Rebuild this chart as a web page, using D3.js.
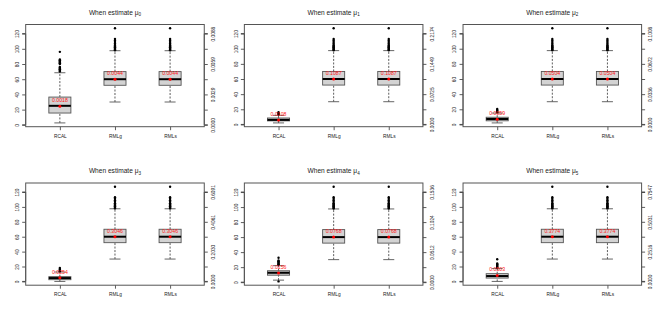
<!DOCTYPE html>
<html>
<head>
<meta charset="utf-8">
<script src="https://cdn.jsdelivr.net/npm/d3@7"></script>
<style>
  html, body { margin: 0; padding: 0; background: #fff; }
  svg { display: block; font-family: "Liberation Sans", Arial, sans-serif; }
</style>
</head>
<body>
<div id="chart"></div>
<script>
const W = 656;
const H = 317;

const methods = ['RCAL', 'RMLg', 'RMLs'];
const paramIdx = ['0', '1', '2', '3', '4', '5'];

// [lower whisker, Q1, median, Q3, upper whisker] on the left axis scale
const rcalStats = [
  [2.5, 15.5, 25, 36.5, 68.5],
  [2, 4.7, 6, 8.5, 12],
  [2, 4.8, 7.2, 9.5, 15],
  [0, 2.3, 4.5, 6.4, 12.6],
  [2.7, 9.3, 12.5, 15.2, 22],
  [0, 4.5, 7.2, 10.4, 17.2]
];
const rcalOutliers = [
  [70, 71, 72, 73, 74, 75, 76, 80, 81, 82, 83, 84, 85, 86, 96],
  [13, 13.7, 14.4, 15.2, 16.2],
  [16, 17, 18, 19, 20.5],
  [13.5, 14.5, 15.5, 16.5, 18],
  [1, 23, 24, 25, 26, 27, 28, 29, 32.5],
  [18, 19, 20, 21, 22, 23, 24, 29.8]
];
const rcalMeans = [24.5, 6, 7, 5, 12.2, 8];

const rmlStats = [30, 52, 60, 70, 97.5];
const rmlOutliers = [98, 99, 100, 101, 102, 103, 104, 105, 107, 109, 111, 113, 127];
const rmlMean = 60;

const meanLabels = [
  ['0.0018', '0.0044', '0.0044'],
  ['0.0108', '0.1087', '0.1087'],
  ['0.0059', '0.0504', '0.0504'],
  ['0.0254', '0.3046', '0.3046'],
  ['0.0156', '0.0768', '0.0768'],
  ['0.0503', '0.3774', '0.3774']
];

const leftTicks = [0, 20, 40, 60, 80, 100, 120];
const rightLabels = [
  ['0.0000', '0.0029', '0.0059', '0.0088'],
  ['0.0000', '0.0725', '0.1449', '0.2174'],
  ['0.0000', '0.0336', '0.0672', '0.1008'],
  ['0.0000', '0.2030', '0.4061', '0.6091'],
  ['0.0000', '0.0512', '0.1024', '0.1536'],
  ['0.0000', '0.2516', '0.5031', '0.7547']
];

const pw = W / 3;
const ph = H / 2;
const margin = {top: 24.5, right: 14.4, bottom: 31.8, left: 25.7};
const iw = pw - margin.left - margin.right;
const ih = ph - margin.top - margin.bottom;

const svg = d3.select('#chart')
  .append('svg')
  .attr('width', W)
  .attr('height', H);

function drawPanel(p) {
  const col = p % 3;
  const row = Math.floor(p / 3);
  const g = svg.append('g')
    .attr('transform', `translate(${col * pw + margin.left}, ${row * ph + margin.top})`);

  const groups = [
    {stats: rcalStats[p], out: rcalOutliers[p], mean: rcalMeans[p]},
    {stats: rmlStats, out: rmlOutliers, mean: rmlMean},
    {stats: rmlStats, out: rmlOutliers, mean: rmlMean}
  ];

  const allVals = groups.flatMap(d => d.stats.concat(d.out));
  const lo = d3.min(allVals);
  const hi = d3.max(allVals);
  const pad = (hi - lo) * 0.04;

  const y = d3.scaleLinear().domain([lo - pad, hi + pad]).range([ih, 0]);
  const x = d3.scaleLinear().domain([0.38, 3.62]).range([0, iw]);
  const bw = x(1.4) - x(1);

  // axes
  const la = g.append('g')
    .call(d3.axisLeft(y).tickValues(leftTicks).tickSize(3.5).tickFormat(d3.format('d')));
  la.select('.domain').attr('stroke', '#333').attr('stroke-width', 0.8)
    .attr('d', `M-3.5,${y(0)}H0V${y(120)}H-3.5`);
  la.selectAll('.tick line').attr('stroke', '#333').attr('stroke-width', 0.8);
  la.selectAll('.tick text')
    .attr('transform', 'rotate(-90)')
    .attr('x', 0).attr('y', -6.8).attr('dy', 0)
    .attr('text-anchor', 'middle')
    .attr('font-size', 4.8)
    .attr('fill', '#222');

  const ra = g.append('g')
    .attr('transform', `translate(${iw},0)`)
    .call(d3.axisRight(y).tickValues(leftTicks).tickSize(3.5)
      .tickFormat(d => d % 40 === 0 ? rightLabels[p][d / 40] : ''));
  ra.select('.domain').attr('stroke', '#333').attr('stroke-width', 0.8)
    .attr('d', `M3.5,${y(0)}H0V${y(120)}H3.5`);
  ra.selectAll('.tick line').attr('stroke', '#333').attr('stroke-width', 0.8);
  ra.selectAll('.tick text')
    .attr('transform', 'rotate(-90)')
    .attr('x', 0).attr('y', 10.8).attr('dy', 0)
    .attr('text-anchor', 'middle')
    .attr('font-size', 4.8)
    .attr('fill', '#222');

  const xa = g.append('g')
    .attr('transform', `translate(0,${ih})`)
    .call(d3.axisBottom(x).tickValues([1, 2, 3]).tickSize(3.5).tickFormat(d => methods[d - 1]));
  xa.select('.domain').remove();
  xa.selectAll('.tick line').attr('stroke', '#333').attr('stroke-width', 0.8);
  xa.selectAll('.tick text')
    .attr('y', 11).attr('dy', 0)
    .attr('font-size', 4.8)
    .attr('fill', '#222');

  // boxes
  const bx = g.selectAll('g.box')
    .data(groups)
    .enter().append('g')
    .attr('class', 'box')
    .attr('transform', (d, i) => `translate(${x(i + 1)},0)`);

  bx.append('line')
    .attr('y1', d => y(d.stats[0])).attr('y2', d => y(d.stats[1]))
    .attr('stroke', '#333').attr('stroke-width', 0.8).attr('stroke-dasharray', '2,1.5');
  bx.append('line')
    .attr('y1', d => y(d.stats[3])).attr('y2', d => y(d.stats[4]))
    .attr('stroke', '#333').attr('stroke-width', 0.8).attr('stroke-dasharray', '2,1.5');
  bx.append('line')
    .attr('x1', -bw / 4).attr('x2', bw / 4)
    .attr('y1', d => y(d.stats[0])).attr('y2', d => y(d.stats[0]))
    .attr('stroke', '#555').attr('stroke-width', 0.9);
  bx.append('line')
    .attr('x1', -bw / 4).attr('x2', bw / 4)
    .attr('y1', d => y(d.stats[4])).attr('y2', d => y(d.stats[4]))
    .attr('stroke', '#555').attr('stroke-width', 0.9);
  bx.append('rect')
    .attr('x', -bw / 2).attr('width', bw)
    .attr('y', d => y(d.stats[3]))
    .attr('height', d => y(d.stats[1]) - y(d.stats[3]))
    .attr('fill', '#d3d3d3').attr('stroke', '#555').attr('stroke-width', 0.9);
  bx.append('line')
    .attr('x1', -bw / 2).attr('x2', bw / 2)
    .attr('y1', d => y(d.stats[2])).attr('y2', d => y(d.stats[2]))
    .attr('stroke', '#000').attr('stroke-width', 2);

  bx.selectAll('circle.out')
    .data(d => d.out)
    .enter().append('circle')
    .attr('class', 'out')
    .attr('cy', d => y(d))
    .attr('r', 1.2)
    .attr('fill', '#000');

  bx.append('circle')
    .attr('cy', d => y(d.mean))
    .attr('r', 1.5)
    .attr('fill', '#ff0000');
  bx.append('text')
    .attr('y', d => y(d.mean) - 4)
    .attr('text-anchor', 'middle')
    .attr('font-size', 5.2)
    .attr('fill', '#ff2020')
    .text((d, i) => meanLabels[p][i]);

  // frame
  g.append('rect')
    .attr('width', iw).attr('height', ih)
    .attr('fill', 'none').attr('stroke', '#555').attr('stroke-width', 1);

  // title
  const t = g.append('text')
    .attr('x', iw / 2).attr('y', -10)
    .attr('text-anchor', 'middle')
    .attr('font-size', 6.6)
    .attr('fill', '#222')
    .text('When estimate μ');
  t.append('tspan')
    .attr('font-size', 4.6)
    .attr('dy', 1.6)
    .text(paramIdx[p]);
}

for (let p = 0; p < 6; p++) drawPanel(p);
</script>
</body>
</html>
